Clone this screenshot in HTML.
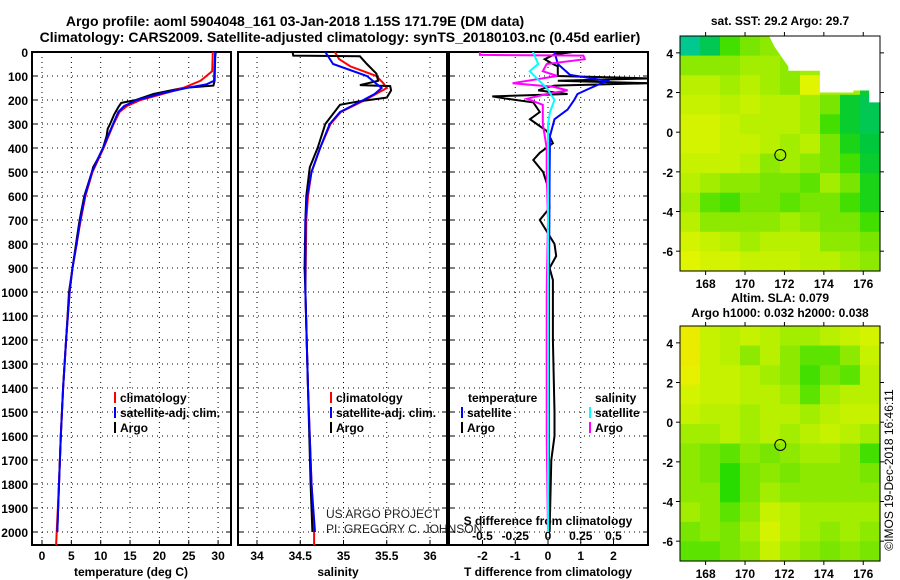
<!DOCTYPE html>
<html><head><meta charset="utf-8">
<style>
html,body{margin:0;padding:0;background:#fff;}
svg{display:block;font-family:"Liberation Sans",Arial,sans-serif;}
.b{font-weight:bold;}
</style></head>
<body>
<svg id="fig" width="900" height="580" viewBox="0 0 900 580" xmlns="http://www.w3.org/2000/svg">
<text x="295" y="26" text-anchor="middle" class="b" font-size="14">Argo profile: aoml 5904048_161 03-Jan-2018 1.15S 171.79E (DM data)</text>
<text x="340" y="42" text-anchor="middle" class="b" font-size="14">Climatology: CARS2009. Satellite-adjusted climatology: synTS_20180103.nc (0.45d earlier)</text>
<text x="780" y="25" text-anchor="middle" class="b" font-size="12">sat. SST: 29.2 Argo: 29.7</text>
<text x="780" y="302" text-anchor="middle" class="b" font-size="12">Altim. SLA: 0.079</text>
<text x="780" y="317" text-anchor="middle" class="b" font-size="12">Argo h1000: 0.032 h2000: 0.038</text>
<text x="0" y="0" transform="translate(893,470) rotate(-90)" text-anchor="middle" font-size="12">©IMOS 19-Dec-2018 16:46:11</text>
<text x="326" y="518" font-size="12" fill="#222">US ARGO PROJECT</text>
<text x="326" y="533" font-size="12" fill="#222">PI: GREGORY C. JOHNSON</text>
<g id="g"></g>
</svg>
<script>
// ---------- data ----------
const tempClimDepth = [0,80,100,120,150,175,200,225,250,300,400,500,600,700,800,900,1000,1200,1400,1600,1800,2000,2055];
const tempClimVal   = [29.1,29.0,28,27,24,20.5,16.8,14.5,13.2,12.2,10.5,8.6,7.4,6.6,5.9,5.2,4.7,4.1,3.6,3.2,2.9,2.5,2.4];
const tempSatDepth  = [0,120,135,150,175,200,225,250,300,400,500,600,700,800,900,1000,1200,1400,1600,1800,2000];
const tempSatVal    = [29.5,29.3,28,24.6,20,16.2,14,13,12.1,10.4,8.5,7.3,6.5,5.9,5.2,4.7,4.1,3.6,3.2,2.9,2.6];
const tempArgoDepth = [0,20,120,140,150,160,175,200,212,230,260,300,320,350,400,450,480,500,600,700,800,900,1000,1200,1400,1600,1800,2000];
const tempArgoVal   = [29.6,29.5,29.4,29.2,24,22,19,16,13.5,13,12.3,11.6,11.2,11,10.4,9.4,8.7,8.5,7.2,6.4,5.8,5.2,4.6,4.1,3.6,3.2,2.9,2.6];

const salClimDepth = [0,30,60,100,130,150,200,250,300,400,500,600,700,1000,1400,1800,2000,2055];
const salClimVal   = [34.9,34.95,35.08,35.38,35.46,35.5,35.25,34.97,34.85,34.73,34.63,34.59,34.57,34.56,34.59,34.63,34.66,34.66];
const salSatDepth  = [0,50,100,150,175,200,250,300,400,500,600,700,1000,1400,1800,2000];
const salSatVal    = [34.79,34.88,35.27,35.44,35.36,35.23,34.96,34.84,34.73,34.63,34.58,34.56,34.56,34.59,34.63,34.67];
const salArgoDepth = [0,15,18,50,90,120,138,142,160,190,205,220,300,400,480,600,700,900,1000,1400,1800,2000];
const salArgoVal   = [34.41,34.42,35.19,35.27,35.38,35.40,35.19,35.54,35.55,35.5,35.19,34.96,34.79,34.7,34.61,34.57,34.56,34.55,34.56,34.59,34.62,34.64];

const dTSatDepth  = [0,50,95,120,150,175,200,240,280,350,500,1000,2000];
const dTSatVal    = [0.2,0.3,0.67,1.8,1.3,0.9,0.8,0.6,0.2,0.06,0.05,0.03,0.02];
const dTArgoDepth = [0,10,30,50,60,100,110,120,130,140,150,160,175,185,195,210,250,280,330,380,420,450,500,550,650,700,800,850,900,950,1000,1200,1500,1600,1700,2000];
const dTArgoVal   = [0.77,0.2,-0.1,0.15,0.3,0.3,3.1,0.3,3.1,0.2,-0.1,-0.3,0.6,-1.7,-1.25,-0.45,-0.25,-0.55,-0.03,0.15,-0.25,-0.45,-0.15,-0.03,0.05,-0.25,0.2,0.25,0.05,0.15,0.15,0.15,0.2,0.2,0.1,0.05];
const dSSatDepth  = [0,50,80,110,150,200,250,300,1000,2000];
const dSSatVal    = [-0.115,-0.075,-0.14,-0.085,-0.01,0.05,0.015,0.0,0.0,0.0];
const dSArgoDepth = [0,12,15,30,50,80,100,130,145,160,175,195,220,300,400,500,700,1000,1600,2000];
const dSArgoVal   = [-0.52,-0.52,0.27,0.28,-0.01,-0.04,0.07,-0.27,0.04,0.15,-0.01,-0.16,-0.04,-0.04,-0.01,-0.01,0.0,-0.01,-0.01,0.0];

const depthTicks = [0,100,200,300,400,500,600,700,800,900,1000,1100,1200,1300,1400,1500,1600,1700,1800,1900,2000];
const tempTicks = [0,5,10,15,20,25,30];
const salTicks = [34,34.5,35,35.5,36];
const salTickLabels = ["34","34.5","35","35.5","36"];
const dTTicks = [-2,-1,0,1,2];
const dSTicks = [-0.5,-0.25,0,0.25,0.5];
const dSTickLabels = ["-0.5","-0.25","0","0.25","0.5"];
const lonTicks = [168,170,172,174,176];
const latTicks = [4,2,0,-2,-4,-6];

const sstGrid = [
[.85,.8,.6,.5,.45,.4,.4,.4,.4,.4],
[.45,.45,.45,.4,.4,.45,.4,.35,.4,.4],
[.35,.35,.4,.35,.4,.45,.2,.4,.4,.75],
[.3,.3,.35,.3,.35,.35,.4,.5,.75,.8],
[.25,.25,.3,.35,.35,.35,.4,.6,.75,.8],
[.25,.25,.3,.3,.35,.4,.35,.5,.7,.78],
[.3,.3,.3,.35,.45,.4,.45,.5,.6,.75],
[.35,.4,.45,.45,.5,.5,.55,.4,.5,.7],
[.4,.55,.6,.5,.5,.55,.5,.5,.6,.7],
[.35,.45,.45,.45,.45,.4,.45,.5,.5,.6],
[.25,.3,.35,.4,.35,.35,.35,.45,.45,.5],
[.2,.25,.25,.3,.3,.3,.35,.35,.4,.45]];
const slaGrid = [
[.1,.3,.35,.3,.35,.4,.4,.35,.3,.25],
[.1,.3,.35,.45,.35,.45,.55,.55,.45,.3],
[.15,.3,.3,.35,.4,.45,.6,.5,.55,.35],
[.25,.3,.3,.35,.35,.4,.55,.4,.35,.35],
[.3,.35,.35,.4,.35,.35,.4,.35,.3,.3],
[.4,.4,.35,.4,.35,.4,.35,.3,.35,.4],
[.45,.5,.55,.45,.5,.45,.4,.4,.45,.6],
[.45,.5,.65,.5,.45,.5,.45,.45,.45,.5],
[.45,.45,.65,.5,.4,.45,.45,.45,.45,.45],
[.4,.45,.55,.45,.3,.35,.4,.4,.4,.4],
[.5,.45,.5,.4,.25,.35,.4,.45,.4,.45],
[.55,.55,.5,.45,.3,.4,.45,.5,.45,.5]];
const sstMaskLon = [171.2,171.5,172.2,172.2,173.8,173.8,175.5,175.5,176.3,176.3,176.9,176.9];
const sstMaskLat = [4.9,4.3,3.3,3.1,3.1,2.0,2.0,2.1,2.1,1.5,1.5,4.9];
const argoLon = 171.79, argoLat = -1.15;

// ---------- helpers ----------
const NS = "http://www.w3.org/2000/svg";
const G = document.getElementById('g');
function mk(tag, attrs, parent){ const e=document.createElementNS(NS,tag); for(const k in attrs) e.setAttribute(k,attrs[k]); (parent||G).appendChild(e); return e; }
const yTop=52, yPer=0.24, yBot=545;
const dy = d => yTop + d*yPer;
const xT = t => 42 + t*5.87;
const xS = s => 257 + (s-34)*86.5;
const xDT = t => 548 + t*32.75;
const xDS = s => 548 + s*131;

function line(depths, vals, xf, color, name){
  let pts = depths.map((d,i)=> xf(vals[i]).toFixed(1)+','+dy(d).toFixed(1)).join(' ');
  const p = mk('polyline',{points:pts,fill:'none',stroke:color,'stroke-width':2,'stroke-linejoin':'miter'});
  
  
  return p;
}
function txt(x,y,s,opts,name){
  const t = mk('text',Object.assign({x:x,y:y,'font-size':12,'font-weight':'bold'},opts||{}));
  t.textContent = s;
  
  
  return t;
}
function panel(x0,x1,vticks,xf,name){
  const g = mk('g',{});
  
  
  vticks.forEach(v=>{ const x=xf(v); mk('line',{x1:x,x2:x,y1:yTop,y2:yBot,stroke:'#000','stroke-width':1,'stroke-dasharray':'1,4'},g);
    mk('line',{x1:x,x2:x,y1:yBot,y2:yBot-5,stroke:'#000','stroke-width':1},g); });
  depthTicks.forEach(d=>{ const y=dy(d); mk('line',{x1:x0,x2:x1,y1:y,y2:y,stroke:'#000','stroke-width':1,'stroke-dasharray':'1,4'},g);
    mk('line',{x1:x0,x2:x0+5,y1:y,y2:y,stroke:'#000'},g); mk('line',{x1:x1,x2:x1-5,y1:y,y2:y,stroke:'#000'},g); });
  mk('rect',{x:x0,y:yTop,width:x1-x0,height:yBot-yTop,fill:'none',stroke:'#000','stroke-width':2},g);
  return g;
}

// ---------- panels ----------
panel(32,231,tempTicks,xT,'temperature-panel');
panel(238,447,salTicks,xS,'salinity-panel');
panel(449,648,dTTicks,xDT,'difference-panel');

depthTicks.forEach(d=>{ txt(28,dy(d)+5,String(d),{'text-anchor':'end','font-size':12},'depth-tick-label'); });
tempTicks.forEach(t=>{ txt(xT(t),560,String(t),{'text-anchor':'middle','font-size':12},'temp-tick-label'); });
salTicks.forEach((s,i)=>{ txt(xS(s),560,salTickLabels[i],{'text-anchor':'middle','font-size':12},'salinity-tick-label'); });
dTTicks.forEach(t=>{ txt(xDT(t),560,String(t),{'text-anchor':'middle','font-size':12},'tdiff-tick-label'); });
dSTicks.forEach((s,i)=>{ txt(xDS(s),540,dSTickLabels[i],{'text-anchor':'middle','font-size':12},'sdiff-tick-label'); });
txt(131,576,'temperature (deg C)',{'text-anchor':'middle'},'temperature-axis-title');
txt(338,576,'salinity',{'text-anchor':'middle'},'salinity-axis-title');
txt(548,576,'T difference from climatology',{'text-anchor':'middle'},'tdiff-axis-title');
txt(548,525,'S difference from climatology',{'text-anchor':'middle'},'sdiff-axis-title');

line(tempArgoDepth,tempArgoVal,xT,'#000','temp-argo-line');
line(tempClimDepth,tempClimVal,xT,'#f00','temp-climatology-line');
line(tempSatDepth,tempSatVal,xT,'#00f','temp-satellite-line');
line(salClimDepth,salClimVal,xS,'#f00','salinity-climatology-line');
line(salArgoDepth,salArgoVal,xS,'#000','salinity-argo-line');
line(salSatDepth,salSatVal,xS,'#00f','salinity-satellite-line');
const cp = mk('clipPath',{id:'cp3'}); mk('rect',{x:449,y:yTop,width:199,height:yBot-yTop},cp);
const dg = mk('g',{'clip-path':'url(#cp3)'});
[[dTArgoDepth,dTArgoVal,xDT,'#000','tdiff-argo-line'],[dTSatDepth,dTSatVal,xDT,'#00f','tdiff-satellite-line'],
 [dSArgoDepth,dSArgoVal,xDS,'#f0f','sdiff-argo-line'],[dSSatDepth,dSSatVal,xDS,'#0ff','sdiff-satellite-line']].forEach(a=>{
  const p=line(a[0],a[1],a[2],a[3],a[4]); dg.appendChild(p); });

function legItem(x,y,color,label,name){
  mk('rect',{x:x,y:y-10,width:2,height:11,fill:color});
  txt(x+6,y,label,{'font-size':12},name);
}
legItem(114,402,'#f00','climatology','temp-legend-climatology');
legItem(114,417,'#00f','satellite-adj. clim.','temp-legend-satellite');
legItem(114,432,'#000','Argo','temp-legend-argo');
legItem(330,402,'#f00','climatology','sal-legend-climatology');
legItem(330,417,'#00f','satellite-adj. clim.','sal-legend-satellite');
legItem(330,432,'#000','Argo','sal-legend-argo');
txt(468,402,'temperature',{},'diff-legend-temperature-heading');
legItem(461,417,'#00f','satellite','diff-legend-t-satellite');
legItem(461,432,'#000','Argo','diff-legend-t-argo');
txt(595,402,'salinity',{},'diff-legend-salinity-heading');
legItem(589,417,'#0ff','satellite','diff-legend-s-satellite');
legItem(589,432,'#f0f','Argo','diff-legend-s-argo');

// ---------- maps ----------
const lonMin=166.7, lonMax=176.85, latMax=4.85, latMin=-7.0;
function cmap(v){
  const stops=[[0,[245,225,0]],[0.2,[225,245,0]],[0.35,[185,240,0]],[0.5,[120,230,0]],[0.65,[40,220,0]],[0.78,[0,200,60]],[0.9,[0,200,200]],[1,[0,150,255]]];
  for(let i=1;i<stops.length;i++){ if(v<=stops[i][0]){ const a=stops[i-1],b=stops[i],f=(v-a[0])/(b[0]-a[0]);
    return 'rgb('+a[1].map((c,k)=>Math.round(c+(b[1][k]-c)*f)).join(',')+')'; } }
  return 'rgb(0,150,255)';
}
function map(x0,y0,x1,y1,grid,name,mask){
  const xL = lon => x0 + (lon-lonMin)/(lonMax-lonMin)*(x1-x0);
  const yL = lat => y0 + (latMax-lat)/(latMax-latMin)*(y1-y0);
  const g = mk('g',{});
  
  
  const nr=grid.length, nc=grid[0].length, dLon=(lonMax-lonMin)/nc, dLat=(latMax-latMin)/nr;
  grid.forEach((row,j)=>row.forEach((v,i)=>{
    const xa=xL(lonMin+i*dLon), xb=xL(lonMin+(i+1)*dLon), ya=yL(latMax-j*dLat), yb=yL(latMax-(j+1)*dLat);
    const c = mk('rect',{x:xa.toFixed(1),y:ya.toFixed(1),width:(xb-xa+0.6).toFixed(1),height:(yb-ya+0.6).toFixed(1),fill:cmap(v)},g);
    
    
  }));
  if(mask){
    const pts = mask[0].map((lo,i)=>xL(lo).toFixed(1)+','+yL(mask[1][i]).toFixed(1)).join(' ');
    const m = mk('polygon',{points:pts,fill:'#fff'},g);
    
    
  }
  const c = mk('circle',{cx:xL(argoLon),cy:yL(argoLat),r:5.5,fill:'none',stroke:'#000','stroke-width':1},g);
  
  
  mk('rect',{x:x0,y:y0,width:x1-x0,height:y1-y0,fill:'none',stroke:'#000','stroke-width':1},g);
  lonTicks.forEach(lo=>{ const x=xL(lo); mk('line',{x1:x,x2:x,y1:y0,y2:y0-4,stroke:'#000'},g); mk('line',{x1:x,x2:x,y1:y1,y2:y1+4,stroke:'#000'},g);
    txt(x,y1+17,String(lo),{'text-anchor':'middle','font-size':12},'map-lon-tick-label'); });
  latTicks.forEach(la=>{ const y=yL(la); mk('line',{x1:x0,x2:x0-4,y1:y,y2:y,stroke:'#000'},g); mk('line',{x1:x1,x2:x1+4,y1:y,y2:y,stroke:'#000'},g);
    txt(673,y+5,String(la),{'text-anchor':'end','font-size':12},'map-lat-tick-label'); });
}
map(680,36,880,271,sstGrid,'sst-map',[sstMaskLon,sstMaskLat]);
map(680,326,880,561,slaGrid,'sla-map',null);
</script>
</body></html>
